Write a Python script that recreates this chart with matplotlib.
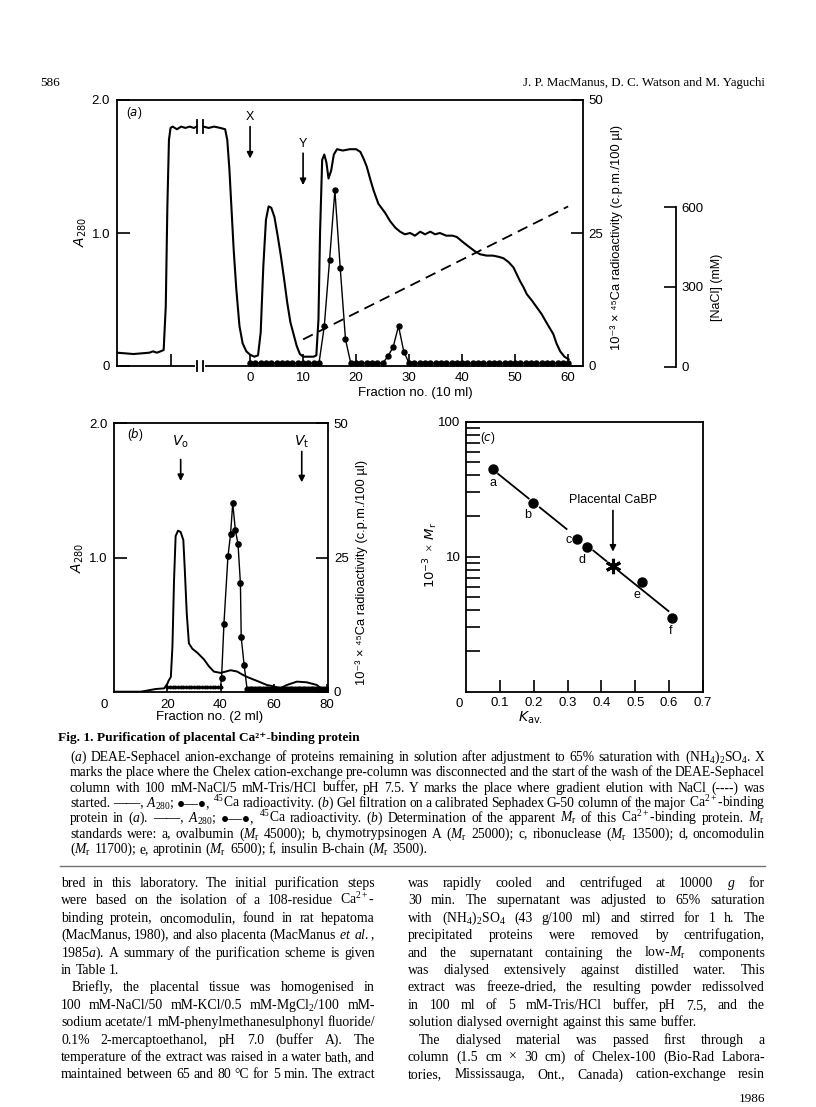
import numpy as np
import matplotlib
matplotlib.use("Agg")
import matplotlib.pyplot as plt
from matplotlib.ticker import NullFormatter

# ---- data ----
# (a) DEAE-Sephacel, A280 trace (fraction no.; negative = loading before fraction 0)
a280_pre_x = [-25.1, -23.5, -22.0, -20.5, -19.0, -18.3, -17.6, -16.9, -16.3, -15.9,
              -15.6, -15.3, -15.0, -14.6, -13.8, -13.0, -12.2, -11.4, -10.6, -10.1]
a280_pre_y = [0.10, 0.095, 0.09, 0.095, 0.10, 0.11, 0.10, 0.11, 0.12, 0.45,
              1.20, 1.70, 1.79, 1.80, 1.78, 1.80, 1.79, 1.80, 1.79, 1.80]
a280_post_x = [-8.8, -7.8, -6.8, -5.6, -4.7, -4.3, -3.9, -3.5, -3.1, -2.6,
               -2.0, -1.4, -0.7, 0.0, 0.8, 1.5, 2.0, 2.5, 3.0, 3.5,
               4.0, 4.6, 5.2, 5.8, 6.4, 7.0, 7.6, 8.2, 8.8, 9.4,
               10.0, 11.0, 12.0, 12.5, 12.9, 13.2, 13.6, 14.0, 14.4, 14.8,
               15.3, 15.8, 16.4, 17.5, 18.8, 20.0, 20.8, 21.4, 22.0, 22.7,
               23.3, 24.2, 25.5, 26.4, 27.4, 28.3, 29.2, 30.2, 31.1, 32.1,
               33.0, 34.0, 34.9, 35.8, 37.0, 38.2, 39.0, 40.2, 41.5, 42.5,
               43.4, 44.6, 45.8, 47.0, 47.8, 48.8, 49.7, 50.3, 50.9, 51.6,
               52.2, 53.2, 54.1, 55.0, 56.0, 56.6, 57.2, 57.8, 58.5, 59.3, 60.1]
a280_post_y = [1.80, 1.79, 1.80, 1.79, 1.78, 1.70, 1.48, 1.18, 0.88, 0.58,
               0.30, 0.17, 0.11, 0.085, 0.07, 0.08, 0.25, 0.75, 1.10, 1.20,
               1.19, 1.12, 0.98, 0.83, 0.66, 0.48, 0.33, 0.24, 0.15, 0.09,
               0.07, 0.07, 0.07, 0.08, 0.35, 1.00, 1.55, 1.59, 1.53, 1.41,
               1.47, 1.59, 1.63, 1.62, 1.63, 1.63, 1.61, 1.56, 1.50, 1.40,
               1.32, 1.22, 1.15, 1.09, 1.04, 1.01, 0.99, 1.00, 0.98, 1.01,
               0.99, 1.01, 0.99, 1.00, 0.98, 0.98, 0.97, 0.93, 0.89, 0.86,
               0.84, 0.83, 0.83, 0.82, 0.81, 0.78, 0.74, 0.69, 0.64, 0.59,
               0.54, 0.49, 0.44, 0.39, 0.32, 0.28, 0.24, 0.17, 0.11, 0.07, 0.05]
# (a) 45Ca radioactivity per fraction 0..60 (10^-3 c.p.m./100 ul)
ca_a_x = list(range(61))
ca_a_y = [0.5, 0.5, 0.5, 0.5, 0.5, 0.5, 0.5, 0.5, 0.5, 0.5, 0.5, 0.5, 0.5, 0.5,
          7.5, 20.0, 33.0, 18.5, 5.0,
          0.5, 0.5, 0.5, 0.5, 0.5, 0.5, 0.5,
          1.8, 3.6, 7.5, 2.7,
          0.5, 0.5, 0.5, 0.5, 0.5, 0.5, 0.5, 0.5, 0.5, 0.5, 0.5,
          0.5, 0.5, 0.5, 0.5, 0.5, 0.5, 0.5, 0.5, 0.5, 0.5,
          0.5, 0.5, 0.5, 0.5, 0.5, 0.5, 0.5, 0.5, 0.5, 0.5]
# (a) NaCl gradient (mM)
nacl_x = [10, 60]
nacl_y = [100, 600]
frac_ticks_a = [-15, 0, 10, 20, 30, 40, 50, 60]
frac_labels_a = ['', '0', '10', '20', '30', '40', '50', '60']

# (b) Sephadex G-50
b_x = [0, 10, 15.6, 18.8, 20.0, 20.4, 21.3, 21.9, 22.5, 23.1,
       24.0, 25.0, 26.0, 26.5, 27.3, 28.1, 29.4, 31.3, 33.8, 35.6,
       37.5, 40.0, 42.0, 43.8, 46.3, 48.0, 50.0, 53.8, 57.5, 60.0,
       62.5, 65.0, 68.8, 72.5, 76.3, 78.8, 80.0]
b_y = [0, 0, 0.02, 0.025, 0.06, 0.08, 0.11, 0.34, 0.83, 1.16,
       1.20, 1.19, 1.13, 0.93, 0.58, 0.36, 0.32, 0.29, 0.24, 0.19,
       0.15, 0.14, 0.15, 0.16, 0.15, 0.13, 0.11, 0.08, 0.05, 0.04,
       0.025, 0.05, 0.075, 0.07, 0.05, 0.01, 0.005]
ca_b_base1_x = [20, 21, 22, 23, 24, 25, 26, 27, 28, 29, 30, 31, 32, 33, 34, 35, 36, 37, 38, 39, 40]
ca_b_base1_y = [0.8, 0.8, 0.8, 0.8, 0.8, 0.8, 0.8, 0.8, 0.8, 0.8, 0.8,
                0.8, 0.8, 0.8, 0.8, 0.8, 0.8, 0.8, 0.8, 0.8, 0.8]
ca_b_peak_x = [40.4, 41.3, 42.8, 43.8, 44.6, 45.6, 46.6, 47.5, 47.8, 48.9]
ca_b_peak_y = [2.6, 12.7, 25.2, 29.4, 35.1, 30.1, 27.5, 20.2, 10.1, 5.0]
ca_b_base2_x = [50, 51, 52, 53, 54, 55, 56, 57, 58, 59, 60, 61, 62, 63, 64, 65,
                66, 67, 68, 69, 70, 71, 72, 73, 74, 75, 76, 77, 78, 79, 80]
ca_b_base2_y = [0.5, 0.5, 0.5, 0.5, 0.5, 0.5, 0.5, 0.5, 0.5, 0.5, 0.5, 0.5, 0.5, 0.5, 0.5, 0.5,
                0.5, 0.5, 0.5, 0.5, 0.5, 0.5, 0.5, 0.5, 0.5, 0.5, 0.5, 0.5, 0.5, 0.5, 0.5]
v0_frac = 25
vt_frac = 70.6

# (c) calibration
std_names = ['a', 'b', 'c', 'd', 'e', 'f']
std_kav = [0.080, 0.198, 0.329, 0.356, 0.520, 0.608]
std_mr = [45.0, 25.0, 13.5, 11.7, 6.5, 3.5]
cabp_kav = 0.434
cabp_mr = 8.5
fit_pieces = [(0.095, 0.185), (0.218, 0.297), (0.376, 0.414), (0.449, 0.598)]
kav_ticks = [0.1, 0.2, 0.3, 0.4, 0.5, 0.6, 0.7]

# ---- fonts ----
SANS = ['Liberation Sans Narrow', 'Liberation Sans', 'DejaVu Sans']
SERIF = ['Liberation Serif', 'DejaVu Serif']
plt.rcParams['font.family'] = SANS
plt.rcParams['mathtext.fontset'] = 'custom'
plt.rcParams['mathtext.rm'] = 'Liberation Serif'
plt.rcParams['mathtext.it'] = 'Liberation Serif:italic'
plt.rcParams['mathtext.bf'] = 'Liberation Serif:bold'
plt.rcParams['mathtext.sf'] = 'Liberation Sans Narrow:italic'
plt.rcParams['mathtext.tt'] = 'Liberation Sans Narrow'

W, H = 816, 1107
fig = plt.figure(figsize=(W / 100, H / 100), dpi=100)
fig.patch.set_facecolor('white')


def box(x0, y0, x1, y1):
    return [x0 / W, 1 - y1 / H, (x1 - x0) / W, (y1 - y0) / H]


def ftext(x, y, s, **kw):
    return fig.text(x / W, 1 - y / H, s, **kw)


def frame(ax):
    for sp in ax.spines.values():
        sp.set_linewidth(1.3)


arrow = dict(arrowstyle='-|>', color='k', lw=1.2, mutation_scale=9, shrinkA=0, shrinkB=0)

# ---------------- panel (a) ----------------
ax_a = fig.add_axes(box(117, 100, 583, 366))
ax_a.plot(a280_pre_x, a280_pre_y, color='k', lw=1.5)
ax_a.plot(a280_post_x, a280_post_y, color='k', lw=1.5)
ax_a.set_xlim(-25.1, 62.8)
ax_a.set_ylim(0, 2.0)
ax_a.set_xticks(frac_ticks_a)
ax_a.set_xticklabels(frac_labels_a)
ax_a.set_yticks([0, 1.0, 2.0])
ax_a.set_yticklabels(['0', '1.0', '2.0'])
frame(ax_a)
ax_a.tick_params(direction='in', length=9, width=1.2, labelsize=9.5)
ax_a.tick_params(axis='x', pad=4)
ax_a.tick_params(axis='y', pad=5)

# axis break
brk = [-10.1, -8.8]
ax_a.plot(brk, [0, 0], color='white', lw=3, clip_on=False, zorder=3)
for xb in brk:
    ax_a.plot([xb, xb], [-0.04, 0.04], color='k', lw=1.3, clip_on=False, zorder=4)
    ax_a.plot([xb, xb], [1.75, 1.85], color='k', lw=1.3, zorder=4)

ax_a.annotate('', xy=(0, 1.56), xytext=(0, 1.80), arrowprops=arrow)
ax_a.text(0, 1.87, 'X', ha='center', va='center', fontsize=9)
ax_a.annotate('', xy=(10, 1.36), xytext=(10, 1.60), arrowprops=arrow)
ax_a.text(10, 1.67, 'Y', ha='center', va='center', fontsize=9)
ax_a.text(0.02, 0.95, r'($\mathsf{a}$)', transform=ax_a.transAxes, fontsize=8.5, va='center')

ca_a = ax_a.twinx()
ca_a.plot(ca_a_x, ca_a_y, color='k', lw=1.0, marker='o', ms=3.6)
ca_a.set_ylim(0, 50)
ca_a.set_yticks([0, 25, 50])
for sp in ca_a.spines.values():
    sp.set_visible(False)
ca_a.tick_params(axis='y', direction='in', length=9, width=1.2, labelsize=9.5, pad=4)

nacl_tw = ax_a.twinx()
nacl_tw.set_ylim(0, 1000)
nacl_tw.plot(nacl_x, nacl_y, color='k', lw=1.3, dashes=(6, 3.5))
nacl_tw.axis('off')

ax_n = fig.add_axes(box(600, 207.3, 675.5, 366.7))
ax_n.set_ylim(0, 600)
ax_n.patch.set_visible(False)
for k in ['left', 'top', 'bottom']:
    ax_n.spines[k].set_visible(False)
ax_n.spines['right'].set_linewidth(1.3)
ax_n.set_xticks([])
ax_n.yaxis.tick_right()
ax_n.set_yticks([0, 300, 600])
ax_n.tick_params(axis='y', direction='in', length=9, width=1.2, labelsize=9.5, pad=4)

ftext(81, 232, r'$\mathsf{A}_{\mathtt{280}}$', rotation=90, ha='center', va='center', fontsize=10)
ftext(617, 237, '10⁻³ × ⁴⁵Ca radioactivity (c.p.m./100 µl)', rotation=90,
      ha='center', va='center', fontsize=9.3)
ftext(717, 287, '[NaCl] (mM)', rotation=90, ha='center', va='center', fontsize=9)
ftext(415, 393, 'Fraction no. (10 ml)', ha='center', va='center', fontsize=9.5)

# ---------------- panel (b) ----------------
ax_b = fig.add_axes(box(114.3, 423.3, 328.3, 691.7))
ax_b.plot(b_x, b_y, color='k', lw=1.4)
ax_b.set_xlim(0, 80.6)
ax_b.set_ylim(0, 2.0)
ax_b.set_xticks([20, 40, 60, 80])
ax_b.set_yticks([1.0, 2.0])
ax_b.set_yticklabels(['1.0', '2.0'])
frame(ax_b)
ax_b.tick_params(axis='y', direction='in', length=9, width=1.2, labelsize=9.5, pad=5)
ax_b.tick_params(axis='x', direction='in', length=6, width=1.2, labelsize=9.5, pad=5)
ax_b.annotate('0', xy=(0, 0), xycoords='axes fraction', xytext=(-10, -13),
              textcoords='offset pixels', ha='center', va='center', fontsize=9.5)
ax_b.text(0.06, 0.96, r'($\mathsf{b}$)', transform=ax_b.transAxes, fontsize=8.5, va='center')
ax_b.annotate('', xy=(v0_frac, 1.57), xytext=(v0_frac, 1.73), arrowprops=arrow)
ax_b.text(v0_frac, 1.86, r'$\mathsf{V}_{\mathtt{o}}$', ha='center', va='center', fontsize=10)
ax_b.annotate('', xy=(vt_frac, 1.56), xytext=(vt_frac, 1.79), arrowprops=arrow)
ax_b.text(vt_frac, 1.86, r'$\mathsf{V}_{\mathtt{t}}$', ha='center', va='center', fontsize=10)

ca_b = ax_b.twinx()
ca_b.plot(ca_b_base1_x, ca_b_base1_y, color='k', lw=0.8, ls=(0, (2, 1.5)), marker='o', ms=1.8)
ca_b.plot([ca_b_base1_x[-1]] + ca_b_peak_x + [ca_b_base2_x[0]],
          [ca_b_base1_y[-1]] + ca_b_peak_y + [ca_b_base2_y[0]], color='k', lw=1.0)
ca_b.plot(ca_b_peak_x, ca_b_peak_y, 'o', color='k', ms=3.8)
ca_b.plot(ca_b_base2_x, ca_b_base2_y, color='k', lw=1.0, marker='o', ms=3.4)
ca_b.set_ylim(0, 50)
ca_b.set_yticks([0, 25, 50])
for sp in ca_b.spines.values():
    sp.set_visible(False)
ca_b.tick_params(axis='y', direction='in', length=9, width=1.2, labelsize=9.5, pad=4)

ftext(78, 558, r'$\mathsf{A}_{\mathtt{280}}$', rotation=90, ha='center', va='center', fontsize=10)
ftext(362, 572, '10⁻³ × ⁴⁵Ca radioactivity (c.p.m./100 µl)', rotation=90,
      ha='center', va='center', fontsize=9.3)
ftext(210, 717, 'Fraction no. (2 ml)', ha='center', va='center', fontsize=9.5)

# ---------------- panel (c) ----------------
ax_c = fig.add_axes(box(466, 421.7, 703, 691.7))
ax_c.set_yscale('log')
ax_c.set_xlim(0, 0.7)
ax_c.set_ylim(1, 100)
ax_c.set_yticks([10, 100])
ax_c.set_yticklabels(['10', '100'])
ax_c.set_yticks([2, 3, 4, 5, 6, 7, 8, 9, 20, 30, 40, 50, 60, 70, 80, 90], minor=True)
ax_c.yaxis.set_minor_formatter(NullFormatter())
ax_c.set_xticks(kav_ticks)
ax_c.set_xticklabels([f'{v:.1f}' for v in kav_ticks])
frame(ax_c)
ax_c.tick_params(axis='y', which='both', direction='in', length=10, width=1.2, labelsize=9.5, pad=4)
ax_c.tick_params(axis='x', direction='in', length=9, width=1.2, labelsize=9.5, pad=4)
ax_c.annotate('0', xy=(0, 0), xycoords='axes fraction', xytext=(-7, -12),
              textcoords='offset pixels', ha='center', va='center', fontsize=9.5)

coef = np.polyfit(std_kav, np.log10(std_mr), 1)
for lo, hi in fit_pieces:
    xs = np.array([lo, hi])
    ax_c.plot(xs, 10 ** np.polyval(coef, xs), color='k', lw=1.3)
ax_c.plot(std_kav, std_mr, 'o', color='k', ms=6.5)
ax_c.plot([cabp_kav], [cabp_mr], marker=(6, 2, 0), color='k', ms=11, mew=2.2)
lab_off = {'a': (0, -14), 'b': (-5, -12), 'c': (-9, -1), 'd': (-5, -13), 'e': (-5, -13), 'f': (-1, -13)}
for n, kx, my in zip(std_names, std_kav, std_mr):
    ax_c.annotate(n, (kx, my), xytext=lab_off[n], textcoords='offset pixels',
                  ha='center', va='center', fontsize=9)
ax_c.text(cabp_kav, 26.5, 'Placental CaBP', ha='center', va='center', fontsize=9)
ax_c.annotate('', xy=(cabp_kav, 10.9), xytext=(cabp_kav, 22.0), arrowprops=arrow)
ax_c.text(0.06, 0.94, r'($\mathsf{c}$)', transform=ax_c.transAxes, fontsize=8.5, va='center')

ftext(431, 555, r'$\mathtt{10^{-3}}\ \times\ \mathsf{M}_{\mathtt{r}}$', rotation=90,
      ha='center', va='center', fontsize=9.5)
ftext(530, 718, r'$\mathsf{K}_{\mathtt{av.}}$', ha='center', va='center', fontsize=10)

# ---------------- page text ----------------
renderer = fig.canvas.get_renderer()


def word_widths(words, size):
    out = []
    for w in words:
        t = fig.text(0, 0, w, fontsize=size, family=SERIF)
        out.append(t.get_window_extent(renderer).width)
        t.remove()
    return out


def block_size(lines, x0, x1, size, min_gap=3.0):
    # one font size for a whole block, small enough that every justified line fits
    best = size
    for s, ind, just in lines:
        words = s.split()
        if not just or len(words) < 2:
            continue
        tot = sum(word_widths(words, size))
        room = (x1 - x0 - ind) - (len(words) - 1) * min_gap
        best = min(best, size * room / tot)
    return best


def text_line(s, x0, x1, y, size, just=True):
    words = s.split()
    widths = word_widths(words, size)
    gap = size * 0.25 * 100 / 72
    if just and len(words) > 1:
        gap = (x1 - x0 - sum(widths)) / (len(words) - 1)
    x = x0
    for w, wd in zip(words, widths):
        fig.text(x / W, 1 - y / H, w, fontsize=size, family=SERIF, va='baseline', ha='left')
        x += wd + gap


ftext(40, 86, '586', family=SERIF, fontsize=9.5, va='baseline')
ftext(765, 86, 'J. P. MacManus, D. C. Watson and M. Yaguchi', family=SERIF,
      fontsize=9.3, ha='right', va='baseline')

ftext(58, 741, 'Fig. 1. Purification of placental Ca²⁺-binding protein', family=SERIF,
      fontsize=9.6, fontweight='bold', va='baseline')

caption = [
    r"($a$) DEAE-Sephacel anion-exchange of proteins remaining in solution after adjustment to 65% saturation with (NH$_4$)$_2$SO$_4$. X",
    r"marks the place where the Chelex cation-exchange pre-column was disconnected and the start of the wash of the DEAE-Sephacel",
    r"column with 100 mM-NaCl/5 mM-Tris/HCl buffer, pH 7.5. Y marks the place where gradient elution with NaCl (----) was",
    r"started. ——, $A_{280}$; ●—●, $^{45}$Ca radioactivity. ($b$) Gel filtration on a calibrated Sephadex G-50 column of the major Ca$^{2+}$-binding",
    r"protein in ($a$). ——, $A_{280}$; ●—●, $^{45}$Ca radioactivity. ($b$) Determination of the apparent $M_\mathrm{r}$ of this Ca$^{2+}$-binding protein. $M_\mathrm{r}$",
    r"standards were: a, ovalbumin ($M_\mathrm{r}$ 45000); b, chymotrypsinogen A ($M_\mathrm{r}$ 25000); c, ribonuclease ($M_\mathrm{r}$ 13500); d, oncomodulin",
    r"($M_\mathrm{r}$ 11700); e, aprotinin ($M_\mathrm{r}$ 6500); f, insulin B-chain ($M_\mathrm{r}$ 3500).",
]
cap_lines = [(s, 0, i < len(caption) - 1) for i, s in enumerate(caption)]
cap_size = block_size(cap_lines, 70, 765, 10.0, min_gap=2.6)
for i, (s, ind, j) in enumerate(cap_lines):
    text_line(s, 70 + ind, 765, 761 + 15.3 * i, cap_size, just=j)

fig.add_artist(plt.Line2D([60 / W, 765 / W], [1 - 866 / H, 1 - 866 / H], color='0.45', lw=1.0))

left_col = [
    (r"bred in this laboratory. The initial purification steps", 0, True),
    (r"were based on the isolation of a 108-residue Ca$^{2+}$-", 0, True),
    (r"binding protein, oncomodulin, found in rat hepatoma", 0, True),
    (r"(MacManus, 1980), and also placenta (MacManus $et$ $al.$,", 0, True),
    (r"1985$a$). A summary of the purification scheme is given", 0, True),
    (r"in Table 1.", 0, False),
    (r"Briefly, the placental tissue was homogenised in", 11, True),
    (r"100 mM-NaCl/50 mM-KCl/0.5 mM-MgCl$_2$/100 mM-", 0, True),
    (r"sodium acetate/1 mM-phenylmethanesulphonyl fluoride/", 0, True),
    (r"0.1% 2-mercaptoethanol, pH 7.0 (buffer A). The", 0, True),
    (r"temperature of the extract was raised in a water bath, and", 0, True),
    (r"maintained between 65 and 80 °C for 5 min. The extract", 0, True),
]
right_col = [
    (r"was rapidly cooled and centrifuged at 10000 $g$ for", 0, True),
    (r"30 min. The supernatant was adjusted to 65% saturation", 0, True),
    (r"with (NH$_4$)$_2$SO$_4$ (43 g/100 ml) and stirred for 1 h. The", 0, True),
    (r"precipitated proteins were removed by centrifugation,", 0, True),
    (r"and the supernatant containing the low-$M_\mathrm{r}$ components", 0, True),
    (r"was dialysed extensively against distilled water. This", 0, True),
    (r"extract was freeze-dried, the resulting powder redissolved", 0, True),
    (r"in 100 ml of 5 mM-Tris/HCl buffer, pH 7.5, and the", 0, True),
    (r"solution dialysed overnight against this same buffer.", 0, False),
    (r"The dialysed material was passed first through a", 11, True),
    (r"column (1.5 cm × 30 cm) of Chelex-100 (Bio-Rad Labora-", 0, True),
    (r"tories, Mississauga, Ont., Canada) cation-exchange resin", 0, True),
]
body_size = min(block_size(left_col, 61, 375, 10.6), block_size(right_col, 408, 765, 10.6))
for i, (s, ind, j) in enumerate(left_col):
    text_line(s, 61 + ind, 375, 887 + 17.4 * i, body_size, just=j)
for i, (s, ind, j) in enumerate(right_col):
    text_line(s, 408 + ind, 765, 887 + 17.4 * i, body_size, just=j)

ftext(765, 1102, '1986', family=SERIF, fontsize=9.5, ha='right', va='baseline')

fig.savefig('out.png', dpi=100, facecolor='white')
